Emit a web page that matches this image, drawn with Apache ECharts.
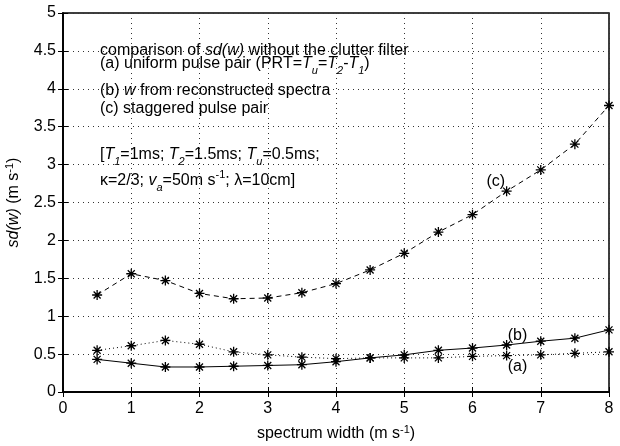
<!DOCTYPE html>
<html><head><meta charset="utf-8">
<script src="https://cdn.jsdelivr.net/npm/echarts@6/dist/echarts.min.js"></script>
<style>html,body{margin:0;padding:0;background:#fff}#c{width:620px;height:446px}</style>
</head><body><div id="c"></div>
<script>
const xValues = [0.5,1,1.5,2,2.5,3,3.5,4,4.5,5,5.5,6,6.5,7,7.5,8];
const seriesA = [0.55,0.61,0.68,0.63,0.53,0.49,0.46,0.44,0.45,0.45,0.45,0.47,0.48,0.49,0.51,0.53];
const seriesB = [0.43,0.38,0.33,0.33,0.34,0.35,0.36,0.40,0.45,0.49,0.55,0.58,0.62,0.67,0.71,0.82];
const seriesC = [1.28,1.56,1.47,1.30,1.23,1.24,1.31,1.43,1.61,1.83,2.11,2.34,2.65,2.93,3.27,3.78];
const xTicks = [0,1,2,3,4,5,6,7,8];
const yTicks = [0,0.5,1,1.5,2,2.5,3,3.5,4,4.5,5];

const FONT = 'Liberation Sans, Arial, sans-serif';
const star = 'path://M0,-1L0,1M-1,0L1,0M-0.7,-0.7L0.7,0.7M-0.7,0.7L0.7,-0.7';
const pair = arr => xValues.map((x,i)=>[x,arr[i]]);
const rich = {
  n:{fontSize:16,fontFamily:FONT,color:'#000',lineHeight:24},
  i:{fontSize:16,fontFamily:FONT,color:'#000',lineHeight:24,fontStyle:'italic'},
  sub:{fontSize:11,fontFamily:FONT,color:'#000',fontStyle:'italic',lineHeight:6,verticalAlign:'bottom'},
  sup:{fontSize:11,fontFamily:FONT,color:'#000',lineHeight:14,verticalAlign:'top'}
};
function mk(name, data, type, labelAt){
  return {name, type:'line', data:pair(data), symbol:star, symbolSize:10,
    itemStyle:{color:'#000',borderColor:'#000',borderWidth:1.3},
    lineStyle:{color:'#000',width:1,type:type}, z:3,
    markPoint:{symbol:'circle',symbolSize:1,itemStyle:{color:'rgba(0,0,0,0)'},
      data:[{coord:labelAt,value:name}],
      label:{show:true,position:'inside',formatter:name,fontSize:16,fontFamily:FONT,color:'#000'}}};
}
const chart = echarts.init(document.getElementById('c'));
const axisBase = {
  type:'value', axisLine:{show:true,lineStyle:{color:'#000',width:1.5}},
  axisTick:{show:true,inside:true,length:5,lineStyle:{color:'#000'}},
};
const ann = (y, text) => ({type:'text', x:100, y:y, z:10, style:{text, rich, fill:'#000', font:'16px '+FONT, verticalAlign:'middle', align:'left'}});
const nameRich = {
  n:{fontSize:16,fontFamily:FONT,color:'#000',lineHeight:20},
  i:{fontSize:16,fontFamily:FONT,color:'#000',lineHeight:20,fontStyle:'italic'},
  sup:{fontSize:11,fontFamily:FONT,color:'#000',lineHeight:12,verticalAlign:'top'}
};
chart.setOption({
  animation:false,
  grid:{left:63,right:11,top:13,bottom:54,show:true,borderColor:'#000',borderWidth:1.5,containLabel:false,outerBoundsMode:'none'},
  xAxis:[
    Object.assign({},axisBase,{min:0,max:8,interval:1,position:'bottom',
      axisLabel:{fontSize:16,fontFamily:FONT,color:'#000',margin:9},
      splitLine:{show:true,lineStyle:{type:[1,4],color:'#333'}},
      name:'{n|spectrum width (m s}{sup|-1}{n|)}',nameLocation:'middle',nameGap:32,nameMoveOverlap:false,
      nameTextStyle:{fontSize:16,fontFamily:FONT,color:'#000',rich:nameRich}}),
    Object.assign({},axisBase,{min:0,max:8,interval:1,position:'top',axisLabel:{show:false},splitLine:{show:false}})
  ],
  yAxis:[
    Object.assign({},axisBase,{min:0,max:5,interval:0.5,position:'left',
      axisLabel:{fontSize:16,fontFamily:FONT,color:'#000',margin:7},
      splitLine:{show:true,lineStyle:{type:[1,4],color:'#333'}},
      name:'{i|sd(w)}{n| (m s}{sup|-1}{n|)}',nameLocation:'middle',nameGap:39,nameRotate:90,nameMoveOverlap:false,
      nameTextStyle:{fontSize:16,fontFamily:FONT,color:'#000',rich:nameRich}}),
    Object.assign({},axisBase,{min:0,max:5,interval:0.5,position:'right',axisLabel:{show:false},splitLine:{show:false}})
  ],
  series:[
    mk('(a)',seriesA,[1,3],[6.66,0.34]),
    mk('(b)',seriesB,'solid',[6.66,0.75]),
    mk('(c)',seriesC,[5,4],[6.34,2.77])
  ],
  graphic:[
    ann(51,'{n|comparison of }{i|sd(w)}{n| without the clutter filter}'),
    ann(64,'{n|(a) uniform pulse pair (PRT=}{i|T}{sub|u}{n|=}{i|T}{sub|2}{n|-}{i|T}{sub|1}{n|)}'),
    ann(91,'{n|(b) }{i|w}{n| from reconstructed spectra}'),
    ann(109,'{n|(c) staggered pulse pair}'),
    ann(155,'{n|[}{i|T}{sub|1}{n|=1ms; }{i|T}{sub|2}{n|=1.5ms; }{i|T}{sub|u}{n|=0.5ms;}'),
    ann(181,'{n|κ=2/3; }{i|v}{sub|a}{n|=50m s}{sup|-1}{n|; λ=10cm]}')
  ]
});
</script></body></html>
